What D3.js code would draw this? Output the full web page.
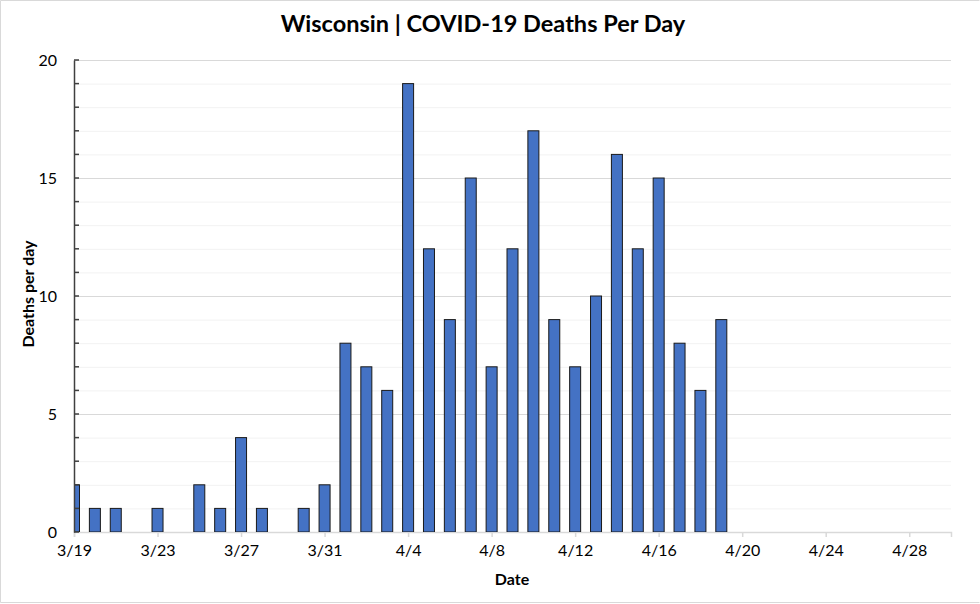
<!DOCTYPE html>
<html><head><meta charset="utf-8">
<script src="https://cdn.jsdelivr.net/npm/d3@7"></script>
<style>
body{margin:0;background:#fff;}
svg{display:block;font-family:Lato,"Open Sans",sans-serif;}
</style></head>
<body><svg id="c" width="980" height="604"></svg>
<script>
const dates = ["2020-03-19","2020-03-20","2020-03-21","2020-03-22","2020-03-23","2020-03-24","2020-03-25","2020-03-26","2020-03-27","2020-03-28","2020-03-29","2020-03-30","2020-03-31","2020-04-01","2020-04-02","2020-04-03","2020-04-04","2020-04-05","2020-04-06","2020-04-07","2020-04-08","2020-04-09","2020-04-10","2020-04-11","2020-04-12","2020-04-13","2020-04-14","2020-04-15","2020-04-16","2020-04-17","2020-04-18","2020-04-19"];
const deaths = [2,1,1,0,1,0,2,1,4,1,0,1,2,8,7,6,19,12,9,15,7,12,17,9,7,10,16,12,15,8,6,9];
const xTickLabels = ["3/19","3/23","3/27","3/31","4/4","4/8","4/12","4/16","4/20","4/24","4/28"];
const yTicks = [0,5,10,15,20];
const title = "Wisconsin | COVID-19 Deaths Per Day";

const parse = d3.utcParse("%Y-%m-%d");
const svg = d3.select("#c");
const L = 74, R = 951, T = 60, B = 532;
const x = d3.scaleUtc().domain([parse("2020-03-19"), parse("2020-04-30")]).range([L, R]);
const y = d3.scaleLinear().domain([0, 20]).range([B, T]);

// outer border
svg.append("path").attr("d","M979.5,0.5H0.5V602.5H979.5").attr("fill","none").attr("stroke","#d9d9d9");

// gridlines
const minor = d3.range(1, 21).filter(v => v % 5 !== 0);
svg.append("g").selectAll("line").data(minor).join("line")
  .attr("x1", L).attr("x2", R).attr("y1", d => y(d)+0.5).attr("y2", d => y(d)+0.5)
  .attr("stroke", "#f2f2f2").attr("stroke-width", 1);
svg.append("g").selectAll("line").data(yTicks.filter(v => v > 0)).join("line")
  .attr("x1", L).attr("x2", R).attr("y1", d => y(d)+0.5).attr("y2", d => y(d)+0.5)
  .attr("stroke", "#d9d9d9").attr("stroke-width", 1);

// x axis
const xTickDates = xTickLabels.map((s, i) => d3.utcDay.offset(parse("2020-03-19"), i*4));
const xAxis = d3.axisBottom(x).tickValues(xTickDates).tickFormat((d, i) => xTickLabels[i]).tickSize(5).tickPadding(8);
const gx = svg.append("g").attr("transform", `translate(0,${B})`).call(xAxis);
gx.select(".domain").attr("stroke", "#d9d9d9").attr("stroke-width", 1.5);
gx.selectAll(".tick line").attr("stroke", "#d9d9d9").attr("stroke-width", 1.5);
gx.selectAll("text").attr("font-size", 16).attr("fill", "#000").attr("font-family", "Lato,'Open Sans',sans-serif");

// bars
svg.append("defs").append("clipPath").attr("id","clip").append("rect")
  .attr("x", L).attr("y", 0).attr("width", R - L).attr("height", B);
const bw = 11;
svg.append("g").attr("clip-path","url(#clip)").selectAll("rect")
  .data(dates.map((d, i) => ({d: parse(d), v: deaths[i]})).filter(o => o.v > 0))
  .join("rect")
  .attr("x", o => x(o.d) - bw/2).attr("width", bw)
  .attr("y", o => y(o.v)).attr("height", o => B - y(o.v))
  .attr("fill", "#4472c4").attr("stroke", "#1a1a1a").attr("stroke-width", 1);

// y axis
const yAxis = d3.axisLeft(y).tickValues(yTicks).tickSize(0).tickPadding(17).tickFormat(d3.format("d"));
const gy = svg.append("g").attr("transform", `translate(${L},0)`).call(yAxis);
gy.select(".domain").attr("stroke", "#404040").attr("stroke-width", 1.5);
gy.selectAll("text").attr("font-size", 16).attr("fill", "#000").attr("font-family", "Lato,'Open Sans',sans-serif");
svg.append("g").selectAll("line").data(d3.range(0, 21)).join("line")
  .attr("x1", L).attr("x2", L + 5).attr("y1", d => y(d)).attr("y2", d => y(d))
  .attr("stroke", "#404040").attr("stroke-width", 1.5);

// titles
svg.append("text").attr("x", 483).attr("y", 32).attr("text-anchor", "middle")
  .attr("font-size", 23.5).attr("font-weight", "bold").text(title);
svg.append("text").attr("x", 512).attr("y", 585).attr("text-anchor", "middle")
  .attr("font-size", 16).attr("font-weight", "bold").text("Date");
svg.append("text").attr("transform", "translate(34,294) rotate(-90)").attr("text-anchor", "middle")
  .attr("font-size", 16).attr("font-weight", "bold").text("Deaths per day");
</script></body></html>
